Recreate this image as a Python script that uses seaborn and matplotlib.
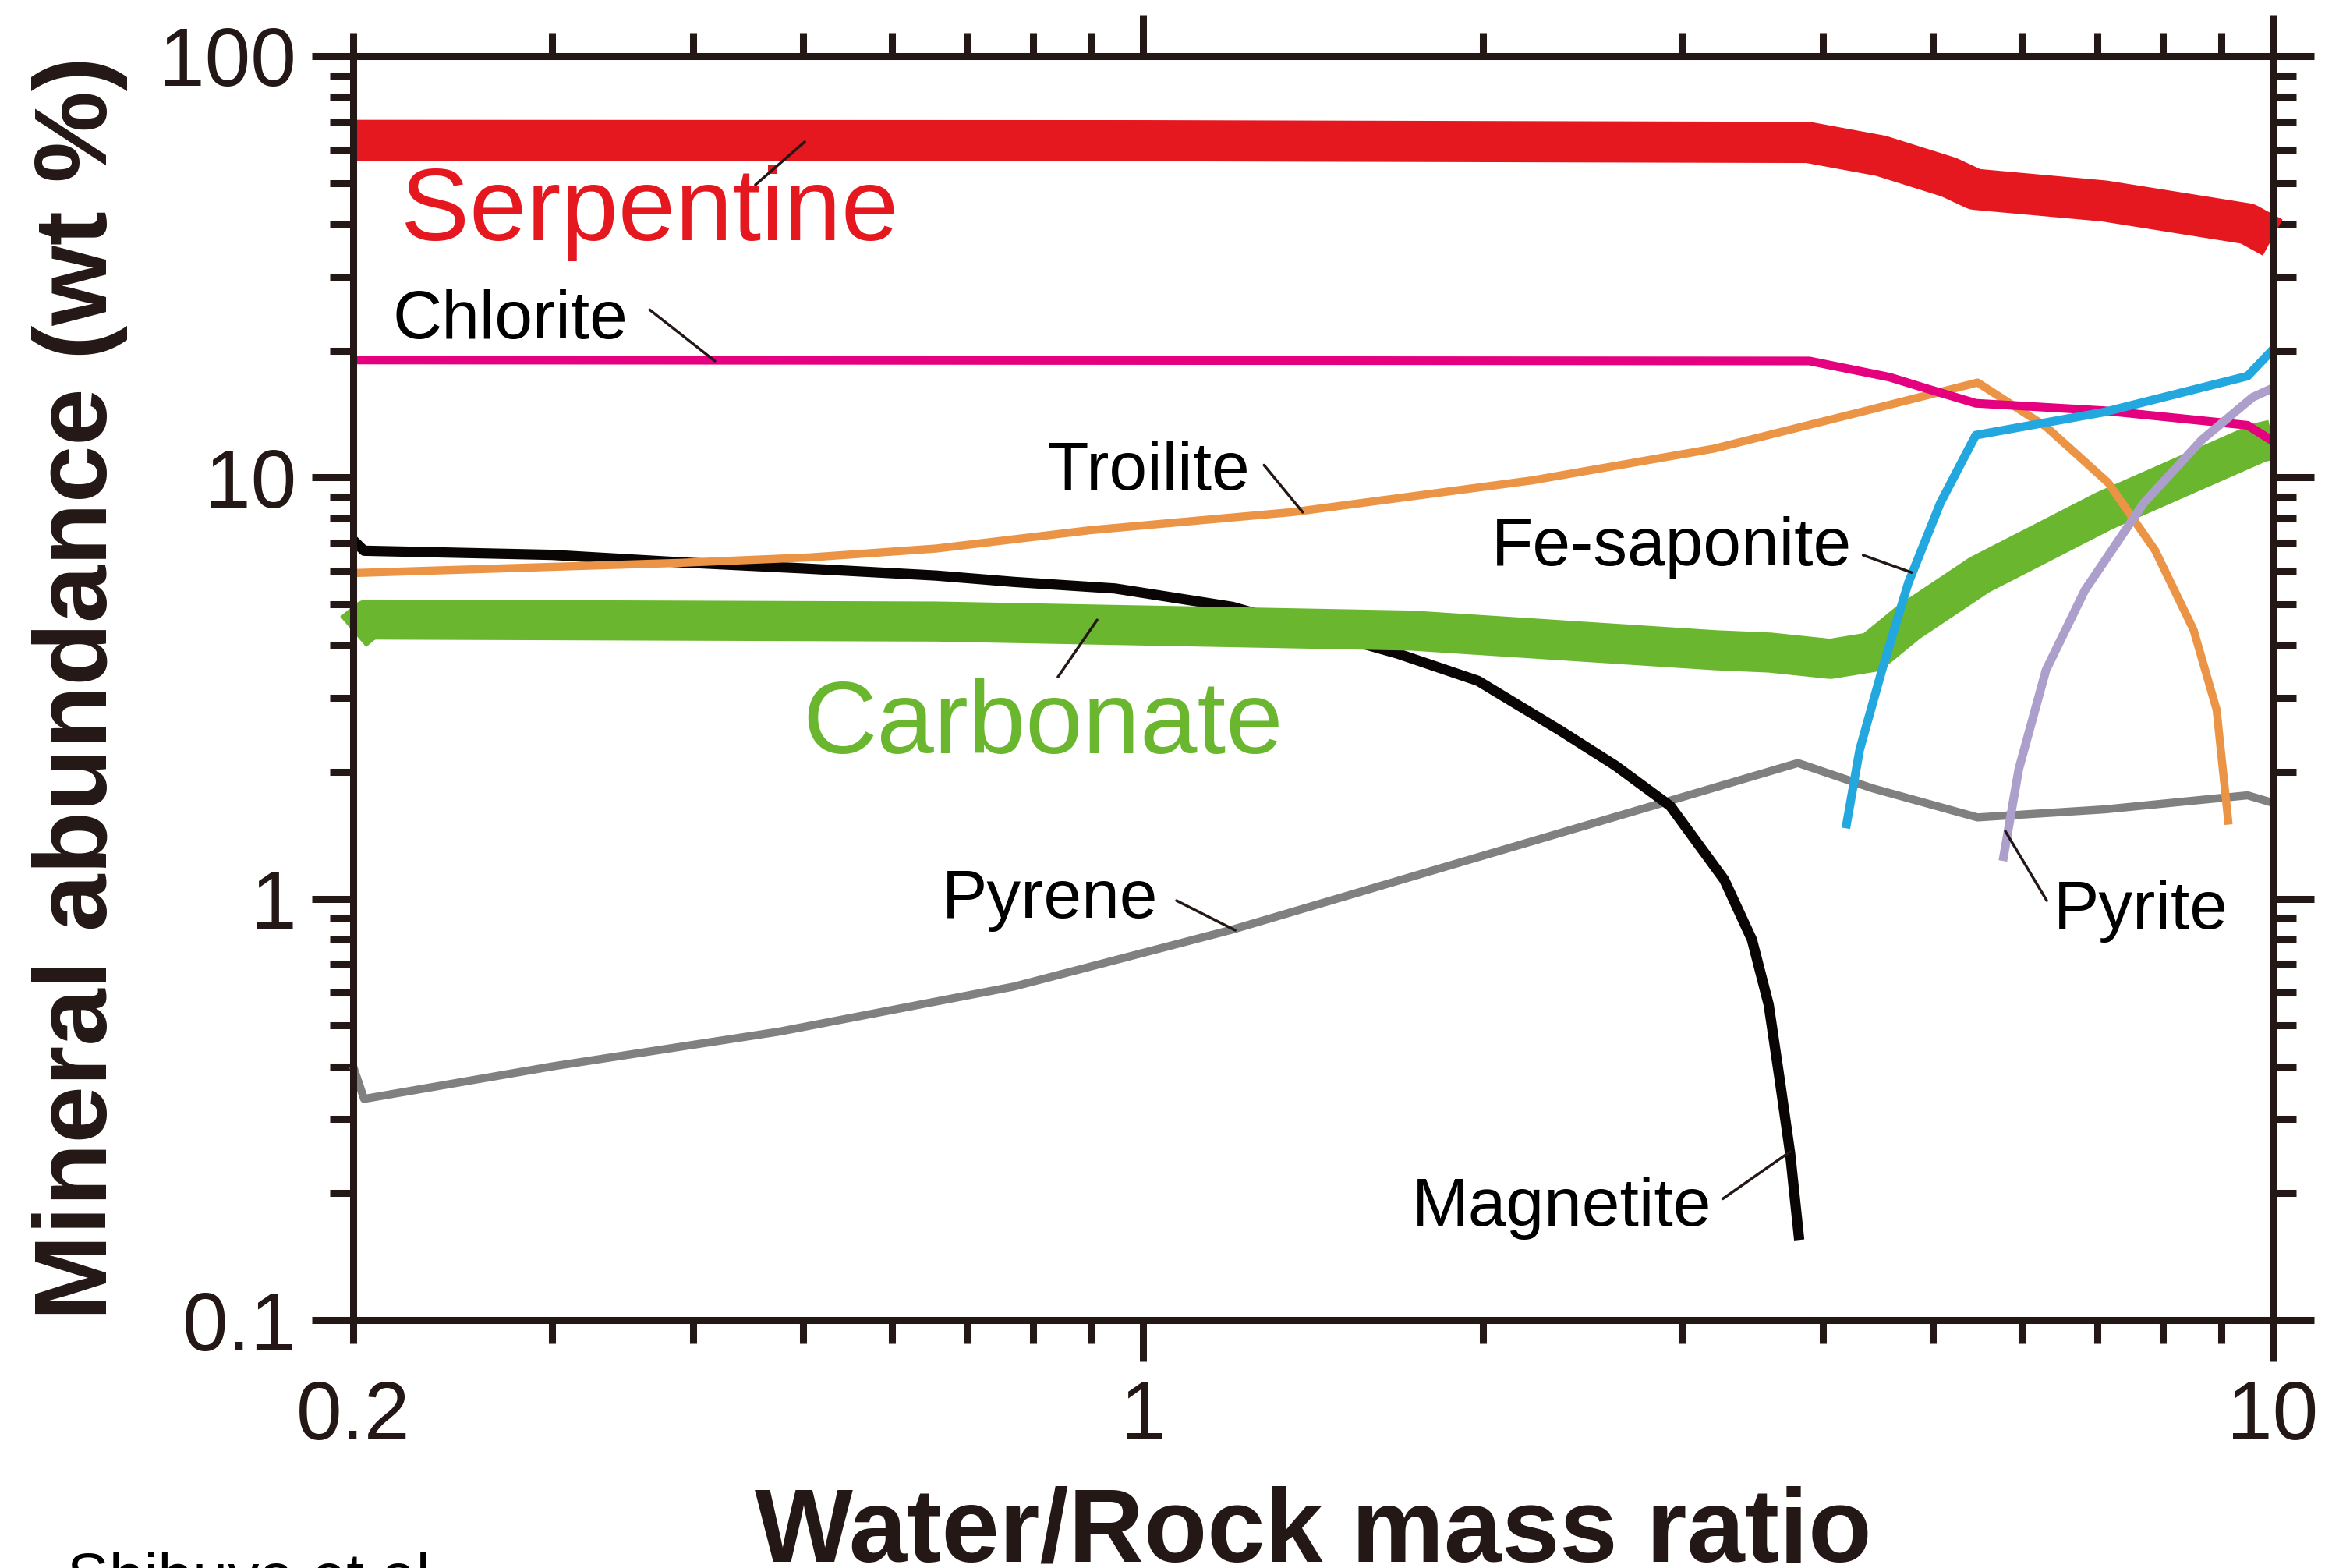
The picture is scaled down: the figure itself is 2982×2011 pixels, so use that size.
import matplotlib
matplotlib.use("Agg")
import matplotlib.pyplot as plt
import seaborn as sns
from matplotlib.ticker import FixedLocator, LogLocator, FuncFormatter, NullFormatter

# ---------------- data (water/rock mass ratio vs. wt %) ----------------
serpentine_x = [0.2, 1.0, 3.88, 4.5, 5.17, 5.45, 7.10, 9.50, 10.0]
serpentine_y = [63.1, 63.0, 62.4, 58.0, 51.6, 48.3, 45.3, 40.0, 37.1]

chlorite_x = [0.2, 3.89, 4.58, 4.96, 5.46, 7.10, 9.50, 10.0]
chlorite_y = [19.0, 18.9, 17.3, 16.2, 15.0, 14.4, 13.3, 12.2]

troilite_x = [0.2, 0.389, 0.507, 0.656, 0.900, 1.36, 2.21, 3.20, 4.41, 5.48,
              6.30, 7.15, 7.87, 8.51, 8.92, 9.14]
troilite_y = [5.93, 6.27, 6.46, 6.78, 7.50, 8.28, 9.84, 11.7, 14.5, 16.8,
              13.2, 9.72, 6.71, 4.35, 2.81, 1.50]

magnetite_x = [0.2, 0.2045, 0.30, 0.389, 0.497, 0.656, 0.769, 0.945, 1.20, 1.68,
               1.98, 2.34, 2.62, 2.93, 3.27, 3.46, 3.58, 3.66, 3.74, 3.81]
magnetite_y = [7.1, 6.7, 6.55, 6.29, 6.09, 5.85, 5.65, 5.45, 4.93, 3.82,
               3.29, 2.51, 2.07, 1.66, 1.11, 0.80, 0.561, 0.375, 0.249, 0.155]

carbonate_x = [0.2, 0.206, 0.656, 1.73, 3.21, 3.59, 4.06, 4.42, 4.76, 5.50, 7.10, 9.73, 10.0]
carbonate_y = [4.3, 4.6, 4.55, 4.33, 3.89, 3.84, 3.71, 3.85, 4.53, 5.87, 8.34, 12.1, 12.3]

pyrene_x = [0.2, 0.2045, 0.30, 0.477, 0.769, 1.20, 1.87, 2.93, 3.80, 4.42, 5.48, 7.10, 9.50, 10.0]
pyrene_y = [0.40, 0.335, 0.40, 0.484, 0.619, 0.845, 1.20, 1.71, 2.10, 1.83, 1.56, 1.63, 1.76, 1.69]

fesaponite_x = [4.19, 4.31, 4.51, 4.76, 5.08, 5.46, 7.10, 9.50, 10.0]
fesaponite_y = [1.47, 2.26, 3.49, 5.63, 8.70, 12.6, 14.3, 17.4, 20.1]

pyrite_x = [5.77, 5.96, 6.30, 6.82, 7.69, 8.66, 9.60, 10.0]
pyrite_y = [1.23, 2.03, 3.49, 5.40, 8.70, 12.3, 15.5, 16.3]

x_tick_values = [1, 10]
x_tick_labels = ["1", "10"]
y_tick_values = [0.1, 1, 10, 100]
y_tick_labels = ["0.1", "1", "10", "100"]

# ---------------- style ----------------
sns.set_style("ticks")
plt.rcParams["font.family"] = ["Liberation Sans", "DejaVu Sans"]
INK = "#231815"

fig = plt.figure(figsize=(29.82, 20.11), dpi=100)
ax = fig.add_axes([0.1519, 0.1581, 0.8256, 0.8061])
ax.set_xscale("log")
ax.set_yscale("log")

series = [
    # x, y, colour, width (pt), z-order
    (pyrene_x, pyrene_y, "#808080", 7.5, 2),
    (magnetite_x, magnetite_y, "#0a0505", 9.5, 3),
    (carbonate_x, carbonate_y, "#6ab72f", 37, 4),
    (troilite_x, troilite_y, "#ec9446", 7.5, 5),
    (chlorite_x, chlorite_y, "#e4007f", 8, 6),
    (pyrite_x, pyrite_y, "#ad9fcc", 8, 7),
    (fesaponite_x, fesaponite_y, "#22a7df", 8, 8),
    (serpentine_x, serpentine_y, "#e5171f", 38, 9),
]
for xs, ys, col, lw, z in series:
    sns.lineplot(x=xs, y=ys, ax=ax, color=col, linewidth=lw, estimator=None,
                 sort=False, clip_on=False, solid_capstyle="butt",
                 solid_joinstyle="round", zorder=z)

ax.set_xlim(0.2, 10)
ax.set_ylim(0.1, 100)

# ---------------- axes, ticks ----------------
for s in ax.spines.values():
    s.set_visible(True)
    s.set_linewidth(6.5)
    s.set_color(INK)
    s.set_zorder(10)

ax.xaxis.set_major_locator(FixedLocator(x_tick_values))
ax.xaxis.set_major_formatter(FuncFormatter(lambda v, p: x_tick_labels[x_tick_values.index(round(v))] if round(v) in x_tick_values else ""))
ax.xaxis.set_minor_locator(LogLocator(base=10, subs=range(2, 10)))
ax.xaxis.set_minor_formatter(FuncFormatter(lambda v, p: "0.2" if abs(v - 0.2) < 1e-9 else ""))

ax.yaxis.set_major_locator(FixedLocator(y_tick_values))
ax.yaxis.set_major_formatter(FuncFormatter(lambda v, p: y_tick_labels[min(range(4), key=lambda i: abs(y_tick_values[i] - v))]))
ax.yaxis.set_minor_locator(LogLocator(base=10, subs=range(2, 10)))
ax.yaxis.set_minor_formatter(NullFormatter())

ax.tick_params(which="both", direction="out", top=True, right=True,
               color=INK, labelcolor=INK, labelsize=76, width=6.5)
ax.tick_params(which="major", length=38)
ax.tick_params(which="minor", length=21.6)
ax.tick_params(axis="x", which="major", pad=16.5)
ax.tick_params(axis="x", which="minor", pad=16.5 + 38 - 21.6)
ax.tick_params(axis="y", which="major", pad=14.4)

ax.set_xlabel("Water/Rock mass ratio", fontsize=96, fontweight="bold",
              color=INK, labelpad=27)
ax.set_ylabel("Mineral abundance (wt %)", fontsize=95, fontweight="bold",
              color=INK, labelpad=29)

# ---------------- curve labels with leader lines ----------------
labels = [
    ("Serpentine", 0.2204, 36.6, "#e5171f", 95, (0.454, 49.5), (0.502, 62.6)),
    ("Chlorite", 0.2168, 21.4, "black", 63, (0.366, 25.0), (0.418, 18.9)),
    ("Troilite", 0.8226, 9.35, "black", 63, (1.28, 10.7), (1.385, 8.27)),
    ("Fe-saponite", 2.035, 6.18, "black", 63, (4.34, 6.54), (4.79, 5.95)),
    ("Carbonate", 0.4994, 2.215, "#6ab72f", 95, (0.911, 4.59), (0.841, 3.36)),
    ("Pyrene", 0.664, 0.901, "black", 63, (1.071, 0.99), (1.207, 0.842)),
    ("Magnetite", 1.73, 0.1678, "black", 63, (3.26, 0.194), (3.74, 0.251)),
    ("Pyrite", 6.40, 0.85, "black", 63, (5.80, 1.446), (6.31, 0.99)),
]
for text, tx, ty, col, size, p0, p1 in labels:
    ax.text(tx, ty, text, color=col, fontsize=size, ha="left", va="baseline", zorder=12)
    ax.annotate("", xy=p1, xytext=p0, zorder=12,
                arrowprops=dict(arrowstyle="-", lw=2.5, color=INK,
                                shrinkA=0, shrinkB=0))

# source credit along the bottom edge
fig.text(0.0288, 0.0104, "Shibuya et al.", fontsize=58, color="black",
         ha="left", va="top")

fig.savefig("out.png", dpi=100, facecolor="white")
